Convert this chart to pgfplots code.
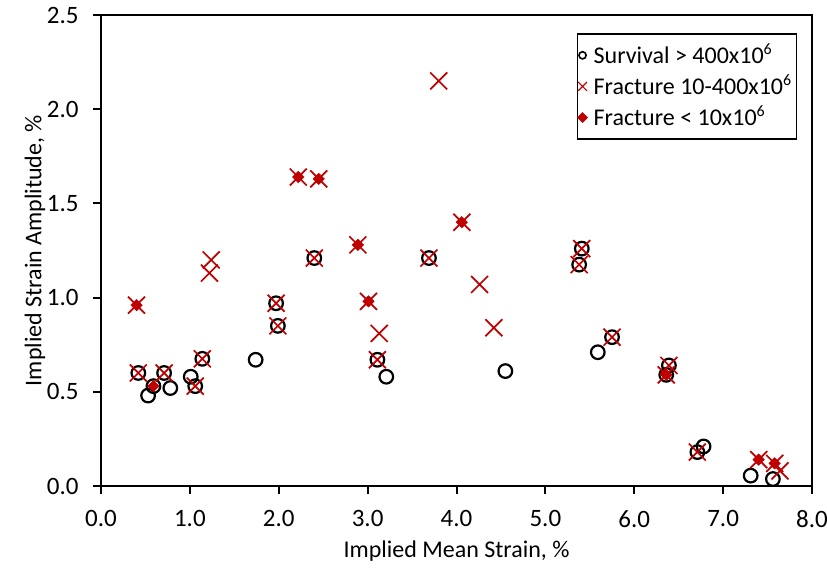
\documentclass[border=0pt]{standalone}
\usepackage{pgfplots}
\pgfplotsset{compat=1.18}
\usepackage{fontspec}
\setmainfont{Carlito}
\definecolor{darkred}{HTML}{C00000}

\begin{document}
\fontsize{12}{14}\selectfont
\begin{tikzpicture}
\begin{axis}[
  scale only axis,
  width=355.5pt, height=235.5pt,
  xmin=0, xmax=8, ymin=0, ymax=2.5,
  xtick={0,1,...,8}, ytick={0,0.5,...,2.5},
  axis line style={line width=1pt, black},
  tick style={line width=1pt, black},
  tick align=outside, major tick length=4pt,
  xtick pos=bottom, ytick pos=left,
  tick label style={font=\fontsize{12.5}{14}\selectfont},
  yticklabel style={xshift=-3pt},
  xticklabel style={yshift=-4pt},
  /pgf/number format/assume math mode=true,
  /pgf/number format/.cd, fixed, fixed zerofill, precision=1,
  /pgfplots/.cd,
  xlabel={Implied Mean Strain, \%},
  ylabel={Implied Strain Amplitude, \%},
  xlabel style={at={([yshift=-32.5pt]axis description cs:0.5,0)}, anchor=center, font=\fontsize{12}{14}\selectfont},
  ylabel style={at={([xshift=-33pt]axis description cs:0,0.5)}, anchor=center, font=\fontsize{12}{14}\selectfont},
  legend cell align=left,
  legend style={at={(1,1)}, anchor=north east, xshift=-7.5pt, yshift=-9pt,
    draw=black, line width=0.75pt, inner xsep=0pt, inner ysep=3pt,
    row sep=0pt, font=\fontsize{12}{14}\selectfont},
]
% Survival > 400x10^6
\addplot[only marks, mark=o, mark size=3.4pt, line width=1.1pt, black,
  legend image code/.code={\draw[black, line width=0.8pt] (0.2cm,0) circle (1.8pt); \path (0.2cm+3pt,0);}]
  table {
x y
0.42 0.60
0.53 0.48
0.59 0.53
0.71 0.60
0.78 0.52
1.01 0.58
1.06 0.53
1.14 0.675
1.74 0.67
1.97 0.97
1.99 0.85
2.40 1.21
3.11 0.67
3.21 0.58
3.69 1.21
4.55 0.61
5.38 1.175
5.41 1.26
5.59 0.71
5.75 0.79
6.36 0.59
6.39 0.64
6.71 0.18
6.78 0.21
7.31 0.055
7.56 0.037
};
\addlegendentry{Survival > 400x10\textsuperscript{6}}
% Fracture 10-400x10^6
\addplot[only marks, mark=x, mark size=6pt, line width=0.85pt, darkred,
  legend image code/.code={\draw[darkred, line width=0.6pt] (0.2cm,0) +(-2.2pt,-2.2pt) -- +(2.2pt,2.2pt) +(-2.2pt,2.2pt) -- +(2.2pt,-2.2pt); \path (0.2cm+3pt,0);}]
  table {
x y
0.40 0.96
0.42 0.60
0.71 0.60
1.06 0.53
1.14 0.675
1.22 1.13
1.24 1.20
1.97 0.97
1.99 0.85
2.22 1.64
2.40 1.21
2.45 1.63
2.89 1.28
3.01 0.98
3.11 0.67
3.13 0.81
3.69 1.21
3.80 2.15
4.06 1.40
4.26 1.07
4.42 0.84
5.38 1.175
5.41 1.26
5.75 0.79
6.36 0.59
6.39 0.64
6.71 0.18
7.40 0.14
7.58 0.12
7.64 0.08
};
\addlegendentry{Fracture 10-400x10\textsuperscript{6}}
% Fracture < 10x10^6
\addplot[only marks, mark=square*, mark size=2pt, darkred,
  mark options={rotate=45, fill=darkred, draw=darkred, line width=0.3pt},
  legend image code/.code={\fill[darkred] (0.2cm,0) +(0,2.2pt) -- +(2.2pt,0) -- +(0,-2.2pt) -- +(-2.2pt,0) -- cycle; \path (0.2cm+3pt,0);}]
  table {
x y
0.40 0.96
0.59 0.53
2.22 1.64
2.45 1.63
2.89 1.28
3.01 0.98
4.06 1.40
6.36 0.59
7.40 0.14
7.58 0.12
};
\addlegendentry{Fracture < 10x10\textsuperscript{6}}
\end{axis}
\pgfresetboundingbox
\path ([shift={(-50.5pt,-40.5pt)}]current axis.south west) rectangle ([shift={(7.5pt,7.5pt)}]current axis.north east);
\end{tikzpicture}
\end{document}
